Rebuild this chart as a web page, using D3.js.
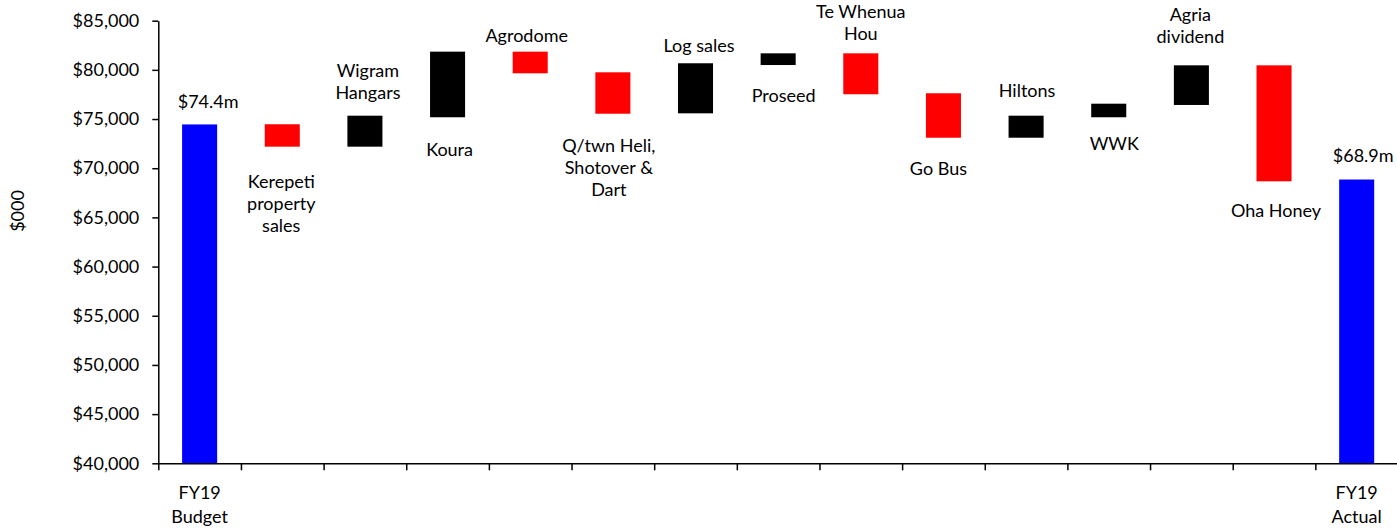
<!DOCTYPE html>
<html>
<head>
<meta charset="utf-8">
<script src="https://cdn.jsdelivr.net/npm/d3@7"></script>
<style>
  html, body { margin: 0; padding: 0; background: #fff; }
  svg { display: block; font-family: Lato, "Open Sans", sans-serif; }
</style>
</head>
<body>
<svg id="chart" width="1397" height="531"></svg>
<script>
// ---- data ----
const categories = ["FY19 Budget", "Kerepeti property sales", "Wigram Hangars", "Koura", "Agrodome",
  "Q/twn Heli, Shotover & Dart", "Log sales", "Proseed", "Te Whenua Hou", "Go Bus", "Hiltons", "WWK",
  "Agria dividend", "Oha Honey", "FY19 Actual"];
const barLow  = [40000, 72190, 72190, 75180, 79650, 75540, 75580, 80490, 77520, 73100, 73100, 75180, 76430, 68670, 40000];
const barHigh = [74450, 74470, 75340, 81850, 81850, 79750, 80670, 81680, 81680, 77620, 75340, 76560, 80460, 80460, 68850];
const barType = ["total", "decrease", "increase", "increase", "decrease", "decrease", "increase", "increase",
  "decrease", "decrease", "increase", "increase", "increase", "decrease", "total"];
const barLabels = [["$74.4m"], ["Kerepeti", "property", "sales"], ["Wigram", "Hangars"], ["Koura"], ["Agrodome"],
  ["Q/twn Heli,", "Shotover &", "Dart"], ["Log sales"], ["Proseed"], ["Te Whenua", "Hou"], ["Go Bus"], ["Hiltons"],
  ["WWK"], ["Agria", "dividend"], ["Oha Honey"], ["$68.9m"]];
const axisLabels = [["FY19", "Budget"], [], [], [], [], [], [], [], [], [], [], [], [], [], ["FY19", "Actual"]];
const yTicks = [40000, 45000, 50000, 55000, 60000, 65000, 70000, 75000, 80000, 85000];
const yTitle = "$000";

// ---- layout (label placement, px) ----
const labelSide = ["above", "below", "above", "below", "above", "below", "above", "below", "above", "below",
  "above", "below", "above", "below", "above"];
const labelGap = [16, 41, 17, 39, 10, 38, 11.5, 36.5, 13.5, 37, 19, 33, 22.5, 36, 18];
const labelDx  = [8.5, -1, 3, 2, -3.5, -4, 3.5, 5.5, 0, -5, 1, 5.5, -1, 2, 6.5];
const colors = { total: "#0000ff", increase: "#000000", decrease: "#ff0000" };
const lineH = 22;

const svg = d3.select("#chart");
const x0 = 158.3, x1 = 1398, yTop = 20.67, yBot = 463.3;

const x = d3.scaleBand().domain(categories).range([x0, x1]).paddingInner(0.576).paddingOuter(0.288);
const y = d3.scaleLinear().domain([40000, 85000]).range([yBot, yTop]);
const bound = d3.scaleLinear().domain([0, categories.length]).range([x0, x1]);

// bars
svg.append("g").selectAll("rect").data(categories).join("rect")
  .attr("x", d => x(d))
  .attr("width", x.bandwidth())
  .attr("y", (d, i) => y(barHigh[i]))
  .attr("height", (d, i) => y(barLow[i]) - y(barHigh[i]))
  .attr("fill", (d, i) => colors[barType[i]]);

// y axis
const yAxis = svg.append("g").attr("transform", `translate(${x0},0)`)
  .call(d3.axisLeft(y).tickValues(yTicks).tickFormat(d => "$" + d3.format(",")(d))
    .tickSize(6).tickSizeOuter(0).tickPadding(13));
yAxis.select(".domain").attr("stroke", "#000").attr("stroke-width", 1.5);
yAxis.selectAll(".tick line").attr("stroke", "#000").attr("stroke-width", 1.5);
yAxis.selectAll(".tick text").attr("font-size", 18).attr("fill", "#000")
  .attr("font-family", "Lato, sans-serif");

// x axis (category boundaries)
const xAxis = svg.append("g").attr("transform", `translate(0,${yBot})`)
  .call(d3.axisBottom(bound).tickValues(d3.range(categories.length + 1)).tickFormat("")
    .tickSize(7).tickSizeOuter(0));
xAxis.select(".domain").attr("stroke", "#000").attr("stroke-width", 1.5);
xAxis.selectAll(".tick line").attr("stroke", "#000").attr("stroke-width", 1.5);

// x category labels
const xl = svg.append("g");
categories.forEach((c, i) => {
  axisLabels[i].forEach((line, j) => {
    xl.append("text")
      .attr("x", x(c) + x.bandwidth() / 2)
      .attr("y", yBot + 35.5 + j * 24.5)
      .attr("text-anchor", "middle")
      .attr("font-size", 18)
      .attr("fill", "#000")
      .text(line);
  });
});

// bar labels
const bl = svg.append("g");
categories.forEach((c, i) => {
  const lines = barLabels[i];
  const cx = x(c) + x.bandwidth() / 2 + labelDx[i];
  const first = labelSide[i] === "above"
    ? y(barHigh[i]) - labelGap[i] - (lines.length - 1) * lineH
    : y(barLow[i]) + labelGap[i];
  lines.forEach((line, j) => {
    bl.append("text")
      .attr("x", cx)
      .attr("y", first + j * lineH)
      .attr("text-anchor", "middle")
      .attr("font-size", 18)
      .attr("fill", "#000")
      .text(line);
  });
});

// y title
svg.append("text")
  .attr("transform", `translate(24,${(yTop + yBot) / 2 - 31}) rotate(-90)`)
  .attr("text-anchor", "middle")
  .attr("font-size", 18)
  .attr("fill", "#000")
  .text(yTitle);
</script>
</body>
</html>
